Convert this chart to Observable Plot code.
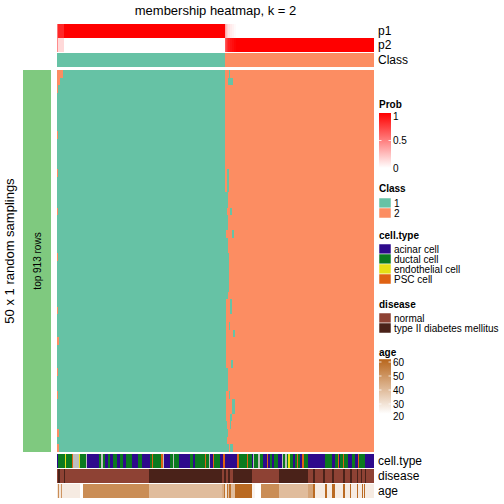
<!DOCTYPE html>
<html><head><meta charset="utf-8">
<script src="https://cdn.jsdelivr.net/npm/d3@7"></script>
<script src="https://cdn.jsdelivr.net/npm/@observablehq/plot@0.6"></script>
<style>
body{margin:0;background:#fff;}
#chart{position:relative;width:504px;height:504px;font-family:"Liberation Sans",Arial,sans-serif;overflow:hidden;}
#chart > svg{position:absolute;left:0;}
</style></head><body><div id="chart"></div>
<script>
// ---------------- data ----------------
const N = 317; // samples (columns)
const nRows = 50; // random samplings
const classColors = {"1": "#66C2A5", "2": "#FC8D62"};
const cellTypeNames = {a: "acinar cell", d: "ductal cell", e: "endothelial cell", p: "PSC cell", n: "NA"};
const cellTypeColors = {"acinar cell": "#2E0A8C", "ductal cell": "#0B7A1F", "endothelial cell": "#E6DF14", "PSC cell": "#DF6213", "NA": "#BEBEBE"};
const diseaseColors = {"normal": "#8E4234", "type II diabetes mellitus": "#4A2219"};
const ageDomain = [23, 62];
const ageRange = ["#FFFFFF", "#B8661C"];

// membership probability of class 1 (run-length: [value, count])
const p1Runs = [[0.55,1],[0.85,6],[1,161],[0.35,1],[0.25,1],[0.18,1],[0.12,2],[0.08,2],[0.05,2],[0.02,2],[0,138]];
const classRuns = [["1",168],["2",149]];
const cellTypeRuns = "a1 d7 e1 d6 p1 n6 e1 d6 n1 a12 d2 n2 d2 a3 d2 a3 d4 a3 d3 a3 d6 a6 d4 a8 d2 p1 d7 d1 p2 n1 a6 d3 n1 d5 a11 d3 a2 d10 p1 d3 n1 a3 p1 d6 a3 p2 a12 p2 d8 p1 d4 a1 n1 d4 n2 d3 a4 p1 a2 d2 a2 d4 a4 n1 d2 n2 d1 e2 d3 a2 d2 p1 d2 a2 p2 d4 a17 d7 a3 d3 p1 a1 d3 p1 d4 a4 d3 a3 p1 d6 a9";
const diseaseRuns = [["normal",1],["type II diabetes mellitus",2],["normal",4],["type II diabetes mellitus",1],["normal",84],["type II diabetes mellitus",73],["normal",2],["type II diabetes mellitus",2],["normal",2],["type II diabetes mellitus",2],["normal",3],["type II diabetes mellitus",19],["normal",27],["type II diabetes mellitus",29],["normal",5],["type II diabetes mellitus",2],["normal",8],["type II diabetes mellitus",2],["normal",7],["type II diabetes mellitus",2],["normal",9],["type II diabetes mellitus",2],["normal",5],["type II diabetes mellitus",2],["normal",5],["type II diabetes mellitus",1],["normal",3],["type II diabetes mellitus",1],["normal",3],["type II diabetes mellitus",1],["normal",8]];
const ageRuns = [[29,1],[52,1],[29,2],[50,1],[28,18],[23,3],[52,66],[40,73],[44,2],[59,1],[30,2],[59,1],[40,1],[59,2],[40,4],[61,17],[26,3],[23,6],[52,18],[40,29],[46,5],[61,2],[28,10],[61,2],[28,5],[61,3],[28,8],[61,2],[28,5],[61,1],[28,6],[61,1],[28,4],[61,1],[28,1],[61,1],[28,9]];

// per sampling row: columns at the left assigned to class 2, and first class-2 column near the split
const leftOrange = [6,3,1,0,0,0,0,0,1,0, 0,0,0,1,0,0,0,0,1,0, 0,0,0,0,1,0,0,0,0,0, 0,1,0,0,0,2,0,0,0,1, 0,0,1,0,0,0,0,2,0,2];
const splitCol   = [168,168,168,168,168,168,168,168,168,168, 168,168,168,168,168,168,171,171,170,171, 171,169,171,171,172,172,172,172,172,171, 169,169,169,169,169,169,169,169,169,171, 171,171,169,169,169,169,170,171,170,172];
// extra class-1 assignments inside class-2 block: [row, startCol, length]
const tealSpots = [[0,172,1],[1,171,5],[13,170,2],[14,170,2],[15,170,2],[18,173,2],[21,175,2],[30,173,2],[31,173,2],[33,172,1],[34,176,2],[38,174,2],[42,172,1],[43,175,3],[44,175,3],[45,173,2],[46,173,1],[49,173,3]];

// legend ticks
const probTicks = [0, 0.5, 1];
const ageTicks = [20, 30, 40, 50, 60];

// ---------------- helpers ----------------
function expand(runs) {
  const segs = []; let x = 0;
  for (const [v, n] of runs) { segs.push({x1: x, x2: x + n, v}); x += n; }
  return segs;
}
const ctRuns = cellTypeRuns.split(" ").map(s => [cellTypeNames[s[0]], +s.slice(1)]);
const probColor = d3.scaleLinear().domain([0, 1]).range(["#FFFFFF", "#FF0000"]);
const ageColor = d3.scaleLinear().domain(ageDomain).range(ageRange).clamp(true);

const chart = document.getElementById("chart");
function place(svg, top) { svg.style.top = top + "px"; svg.style.position = "absolute"; svg.style.left = "0px"; chart.appendChild(svg); }

function strip(segs, fill, top, height) {
  const svg = Plot.plot({
    width: 504, height, marginLeft: 57, marginRight: 130, marginTop: 0, marginBottom: 0,
    x: {domain: [0, N], axis: null}, color: {type: "identity"},
    marks: [Plot.barX(segs, {x1: "x1", x2: "x2", fill: d => fill(d.v), shapeRendering: "crispEdges"})]
  });
  place(svg, top);
}

// top annotations
strip(expand(p1Runs), v => probColor(v), 24, 14);
strip(expand(p1Runs), v => probColor(1 - v), 38, 14);
strip(expand(classRuns), v => classColors[v], 53, 14);

// main membership heatmap
const cells = [];
for (let r = 0; r < nRows; r++) {
  if (leftOrange[r] > 0) cells.push({row: r, x1: 0, x2: leftOrange[r], cls: "2"});
  cells.push({row: r, x1: leftOrange[r], x2: splitCol[r], cls: "1"});
  cells.push({row: r, x1: splitCol[r], x2: N, cls: "2"});
}
for (const [r, s, n] of tealSpots) cells.push({row: r, x1: s, x2: s + n, cls: "1"});
place(Plot.plot({
  width: 504, height: 382, marginLeft: 57, marginRight: 130, marginTop: 0, marginBottom: 0,
  x: {domain: [0, N], axis: null},
  y: {type: "band", domain: d3.range(nRows), padding: 0, axis: null},
  color: {type: "identity"},
  marks: [Plot.barX(cells, {x1: "x1", x2: "x2", y: "row", fill: d => classColors[d.cls], shapeRendering: "crispEdges"})]
}), 70);

// bottom annotations
strip(expand(ctRuns), v => cellTypeColors[v], 454, 14);
strip(expand(diseaseRuns), v => diseaseColors[v], 469, 14);
strip(expand(ageRuns), v => ageColor(v), 484, 14);

// ---------------- overlay: titles, labels, legends ----------------
const svg = d3.create("svg").attr("width", 504).attr("height", 504)
  .style("position", "absolute").style("left", "0px").style("top", "0px")
  .attr("font-family", "'Liberation Sans', Arial, sans-serif");

svg.append("text").attr("x", 215.5).attr("y", 15).attr("text-anchor", "middle").attr("font-size", 13).text("membership heatmap, k = 2");

// row-side annotation bar
svg.append("rect").attr("x", 23).attr("y", 70).attr("width", 28).attr("height", 382).attr("fill", "#7FC97F");
svg.append("text").attr("transform", "translate(41,261) rotate(-90)").attr("text-anchor", "middle").attr("font-size", 10).text("top 913 rows");
svg.append("text").attr("transform", "translate(14,251) rotate(-90)").attr("text-anchor", "middle").attr("font-size", 13).text("50 x 1 random samplings");

// annotation names
const annNames = [["p1", 31], ["p2", 45], ["Class", 60], ["cell.type", 461], ["disease", 476], ["age", 491]];
for (const [t, cy] of annNames) svg.append("text").attr("x", 378).attr("y", cy + 4.3).attr("font-size", 12).text(t);

const defs = svg.append("defs");
function gradLegend(id, title, titleY, y0, y1, topColor, bottomColor, ticks, tickY) {
  const g = defs.append("linearGradient").attr("id", id).attr("x1", 0).attr("x2", 0).attr("y1", 0).attr("y2", 1);
  g.append("stop").attr("offset", 0).attr("stop-color", topColor);
  g.append("stop").attr("offset", 1).attr("stop-color", bottomColor);
  svg.append("text").attr("x", 379).attr("y", titleY).attr("font-size", 10).attr("font-weight", "bold").text(title);
  svg.append("rect").attr("x", 379).attr("y", y0).attr("width", 12).attr("height", y1 - y0).attr("fill", `url(#${id})`);
  for (const t of ticks) {
    const y = tickY(t);
    if (y > y0 + 1 && y < y1 - 1) {
      svg.append("line").attr("x1", 379).attr("x2", 381.5).attr("y1", y).attr("y2", y).attr("stroke", "white").attr("stroke-width", 0.8);
      svg.append("line").attr("x1", 388.5).attr("x2", 391).attr("y1", y).attr("y2", y).attr("stroke", "white").attr("stroke-width", 0.8);
    }
    svg.append("text").attr("x", 393).attr("y", Math.min(Math.max(y, y0 + 3), y1 + 3) + 3.6).attr("font-size", 10).text(t);
  }
}
const probY = d3.scaleLinear().domain([0, 1]).range([168, 113]);
gradLegend("gProb", "Prob", 108, 113, 168, probColor(1), probColor(0), probTicks, t => probY(t));
const ageY = d3.scaleLinear().domain([20, 60]).range([418, 362]);
gradLegend("gAge", "age", 355.5, ageY(62), ageY(23), ageColor(62), ageColor(23), ageTicks, t => ageY(t));

function swatchLegend(title, titleY, y0, items, colors) {
  svg.append("text").attr("x", 379).attr("y", titleY).attr("font-size", 10).attr("font-weight", "bold").text(title);
  items.forEach((it, i) => {
    svg.append("rect").attr("x", 379).attr("y", y0 + i * 10).attr("width", 12).attr("height", 10)
      .attr("fill", colors[it]).attr("stroke", "white").attr("stroke-width", 0.5);
    svg.append("text").attr("x", 394).attr("y", y0 + i * 10 + 8.6).attr("font-size", 10).text(it);
  });
}
swatchLegend("Class", 191.5, 198, ["1", "2"], classColors);
swatchLegend("cell.type", 239, 244, ["acinar cell", "ductal cell", "endothelial cell", "PSC cell"], cellTypeColors);
swatchLegend("disease", 307.5, 313, ["normal", "type II diabetes mellitus"], diseaseColors);

chart.appendChild(svg.node());
</script></body></html>
